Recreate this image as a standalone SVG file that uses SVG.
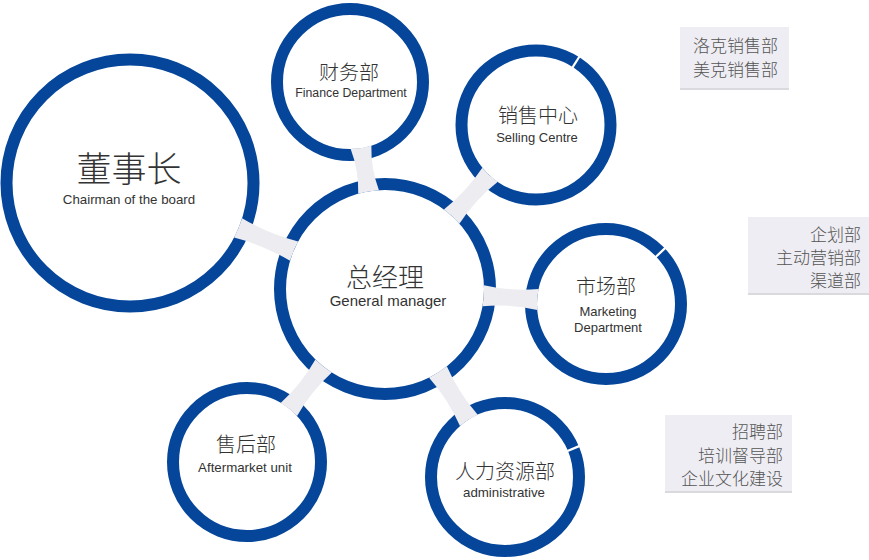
<svg xmlns="http://www.w3.org/2000/svg" width="869" height="560" viewBox="0 0 869 560">
<style>
.ring{fill:#ffffff;stroke:#05469a;stroke-width:12}
.cn{font-family:"Noto Sans CJK SC","Liberation Sans",sans-serif;font-weight:300;fill:#333333;text-anchor:middle}
.en{font-family:"Liberation Sans",Arial,sans-serif;fill:#333333;text-anchor:middle}
.bar{fill:#ececf1}
.notch{stroke:#ffffff;stroke-width:2.2}
.box{fill:#eeedf3}
.boxsh{fill:#d9d9de}
.bt{font-family:"Noto Sans CJK SC",sans-serif;font-weight:300;font-size:17px;fill:#555555;text-anchor:end}
</style>
<rect width="869" height="560" fill="#ffffff"/>
<g id="nodes">
<g id="chairman">
<circle class="ring" cx="130" cy="183" r="123.5"/>
<text class="cn" x="129" y="182" font-size="35">董事长</text>
<text class="en" x="129" y="204" font-size="13.3">Chairman of the board</text>
</g>
<g id="general-manager">
<circle class="ring" cx="385" cy="289" r="105"/>
<text class="cn" x="385" y="287" font-size="26">总经理</text>
<text class="en" x="388" y="306" font-size="15">General manager</text>
</g>
<g id="finance">
<circle class="ring" cx="350" cy="82" r="73"/>
<text class="cn" x="349" y="80" font-size="20">财务部</text>
<text class="en" x="351" y="96.5" font-size="12.3">Finance Department</text>
</g>
<g id="selling">
<circle class="ring" cx="536" cy="125" r="74.5"/>
<text class="cn" x="538" y="123" font-size="20">销售中心</text>
<text class="en" x="537" y="142" font-size="13">Selling Centre</text>
</g>
<g id="marketing">
<circle class="ring" cx="606" cy="304" r="75"/>
<text class="cn" x="606" y="294" font-size="20">市场部</text>
<text class="en" x="608" y="316" font-size="13">Marketing</text>
<text class="en" x="608" y="331.5" font-size="13">Department</text>
</g>
<g id="aftermarket">
<circle class="ring" cx="247" cy="462" r="74"/>
<text class="cn" x="246" y="452" font-size="20">售后部</text>
<text class="en" x="245" y="471.5" font-size="13.3">Aftermarket unit</text>
</g>
<g id="hr">
<circle class="ring" cx="505" cy="477" r="74"/>
<text class="cn" x="505" y="479" font-size="20">人力资源部</text>
<text class="en" x="504" y="497" font-size="13.3">administrative</text>
</g>
</g>
<g id="connectors">
<path class="bar" transform="translate(385,289) rotate(202.6)" d="M98.44,-10.5 Q128.8,-6 159.17,-10.5 A117.5,117.5 0 0 0 159.17,10.5 Q128.8,6 98.44,10.5 A99,99 0 0 0 98.44,-10.5Z"/>
<path class="bar" transform="translate(385,289) rotate(-99.6)" d="M98.44,-10.5 Q121.1,-6 143.73,-10.5 A67,67 0 0 0 143.73,10.5 Q121.1,6 98.44,10.5 A99,99 0 0 0 98.44,-10.5Z"/>
<path class="bar" transform="translate(385,289) rotate(-47.4)" d="M98.44,-10.5 Q126.8,-6 155.21,-10.5 A68.5,68.5 0 0 0 155.21,10.5 Q126.8,6 98.44,10.5 A99,99 0 0 0 98.44,-10.5Z"/>
<path class="bar" transform="translate(385,289) rotate(3.9)" d="M98.44,-10.5 Q125.9,-6 153.3,-10.5 A69,69 0 0 0 153.3,10.5 Q125.9,6 98.44,10.5 A99,99 0 0 0 98.44,-10.5Z"/>
<path class="bar" transform="translate(385,289) rotate(128.6)" d="M98.44,-10.5 Q126.3,-6 154.12,-10.5 A68,68 0 0 0 154.12,10.5 Q126.3,6 98.44,10.5 A99,99 0 0 0 98.44,-10.5Z"/>
<path class="bar" transform="translate(385,289) rotate(57.45)" d="M98.44,-10.5 Q127.1,-6 155.82,-10.5 A68,68 0 0 0 155.82,10.5 Q127.1,6 98.44,10.5 A99,99 0 0 0 98.44,-10.5Z"/>
<line class="notch" x1="67" y1="0" x2="82" y2="0" transform="translate(536,125) rotate(-57.6)"/>
<line class="notch" x1="68" y1="0" x2="82" y2="0" transform="translate(606,304) rotate(-43.4)"/>
<line class="notch" x1="67" y1="0" x2="81" y2="0" transform="translate(505,477) rotate(-22.6)"/>
</g>
<g id="box-selling">
<rect class="boxsh" x="680" y="28" width="109" height="62"/>
<rect class="box" x="680" y="27" width="109" height="61"/>
<text class="bt" x="778" y="52">洛克销售部</text>
<text class="bt" x="778" y="76">美克销售部</text>
</g>
<g id="box-marketing">
<rect class="boxsh" x="748" y="218" width="121" height="77"/>
<rect class="box" x="748" y="217" width="121" height="76"/>
<text class="bt" x="861" y="241">企划部</text>
<text class="bt" x="861" y="264">主动营销部</text>
<text class="bt" x="861" y="287">渠道部</text>
</g>
<g id="box-hr">
<rect class="boxsh" x="665" y="416" width="127" height="77"/>
<rect class="box" x="665" y="415" width="127" height="76"/>
<text class="bt" x="783" y="438">招聘部</text>
<text class="bt" x="783" y="461.5">培训督导部</text>
<text class="bt" x="783" y="485">企业文化建设</text>
</g>
</svg>
